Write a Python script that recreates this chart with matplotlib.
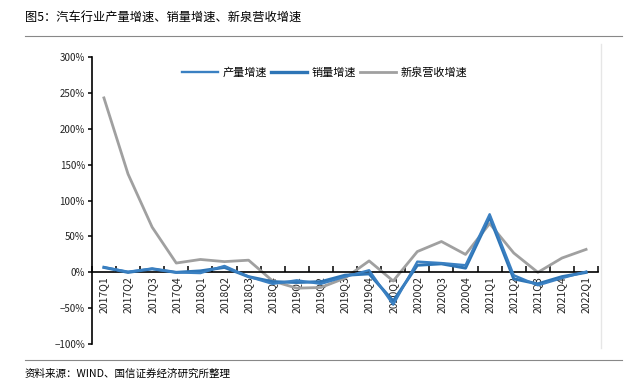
import matplotlib
matplotlib.use("Agg")
import matplotlib.pyplot as plt
from matplotlib.lines import Line2D

plt.rcParams['font.family'] = ['Noto Sans CJK SC', 'DejaVu Sans']
plt.rcParams['axes.unicode_minus'] = False

# data (% growth)
quarters = ["2017Q1", "2017Q2", "2017Q3", "2017Q4", "2018Q1", "2018Q2", "2018Q3",
            "2018Q4", "2019Q1", "2019Q2", "2019Q3", "2019Q4", "2020Q1", "2020Q2",
            "2020Q3", "2020Q4", "2021Q1", "2021Q2", "2021Q3", "2021Q4", "2022Q1"]
production = [7, 1, 5, 0, -1, 9, -6, -16, -11, -16, -6, 3, -45, 15, 13, 10, 81, -4, -18, -8, 1]
sales = [7, 0, 5, 0, 2, 7, -6, -13, -14, -13, -4, -2, -40, 10, 12, 6, 77, -9, -16, -6, 0]
xinquan = [243, 137, 63, 13, 18, 15, 17, -12, -22, -21, -8, 16, -12, 29, 43, 25, 68, 27, 0, 20, 32]

yticks = [-100, -50, 0, 50, 100, 150, 200, 250, 300]

fig = plt.figure(figsize=(6.25, 3.85), dpi=100)
ax = fig.add_axes([0.147, 0.106, 0.81, 0.746])

x = list(range(len(quarters)))
ax.plot(x, xinquan, color="#A0A0A0", lw=2.0, label="新泉营收增速", zorder=2)
ax.plot(x, sales, color="#2E75B6", lw=2.2, label="销量增速", zorder=3)
ax.plot(x, production, color="#3A80C2", lw=1.7, label="产量增速", zorder=4)

ax.set_xlim(-0.5, len(quarters) - 0.5)
ax.set_ylim(-100, 300)

for s in ["top", "right"]:
    ax.spines[s].set_visible(False)
ax.spines["bottom"].set_position(("data", 0))
ax.spines["bottom"].set_linewidth(1.2)
ax.spines["left"].set_linewidth(1.2)

ax.set_xticks(x)
ax.set_xticklabels(quarters, rotation=90, fontsize=7.5, color="#222222")
ax.tick_params(axis="x", which="major", length=0, pad=3)
ax.set_xticks([i - 0.5 for i in range(len(quarters) + 1)], minor=True)
ax.tick_params(axis="x", which="minor", direction="in", length=4, width=1.1)

ax.set_yticks(yticks)
ax.set_yticklabels([("−" if v < 0 else "") + f"{abs(v)}%" for v in yticks], fontsize=7, color="#222222")
ax.tick_params(axis="y", direction="out", length=3, width=1.1, pad=2)

handles = [Line2D([], [], color="#3A80C2", lw=1.7),
           Line2D([], [], color="#2E75B6", lw=2.4),
           Line2D([], [], color="#A0A0A0", lw=2.0)]
ax.legend(handles, ["产量增速", "销量增速", "新泉营收增速"], loc="upper center",
          bbox_to_anchor=(0.46, 1.0), ncol=3, frameon=False, fontsize=8,
          handlelength=3.2, columnspacing=0.4, handletextpad=0.4)

# title, source and frame lines
fig.text(0.04, 0.955, "图5：汽车行业产量增速、销量增速、新泉营收增速", fontsize=8.8, va="center", ha="left")
fig.add_artist(Line2D([0.04, 0.995], [0.907, 0.907], color="#888888", lw=0.8))
fig.add_artist(Line2D([0.04, 0.995], [0.066, 0.066], color="#888888", lw=0.8))
fig.add_artist(Line2D([0.962, 0.962], [0.095, 0.885], color="#E6E6E6", lw=1.0))
fig.text(0.04, 0.03, "资料来源：WIND、国信证券经济研究所整理", fontsize=7.6, va="center", ha="left")

fig.savefig("out.png", dpi=100)
